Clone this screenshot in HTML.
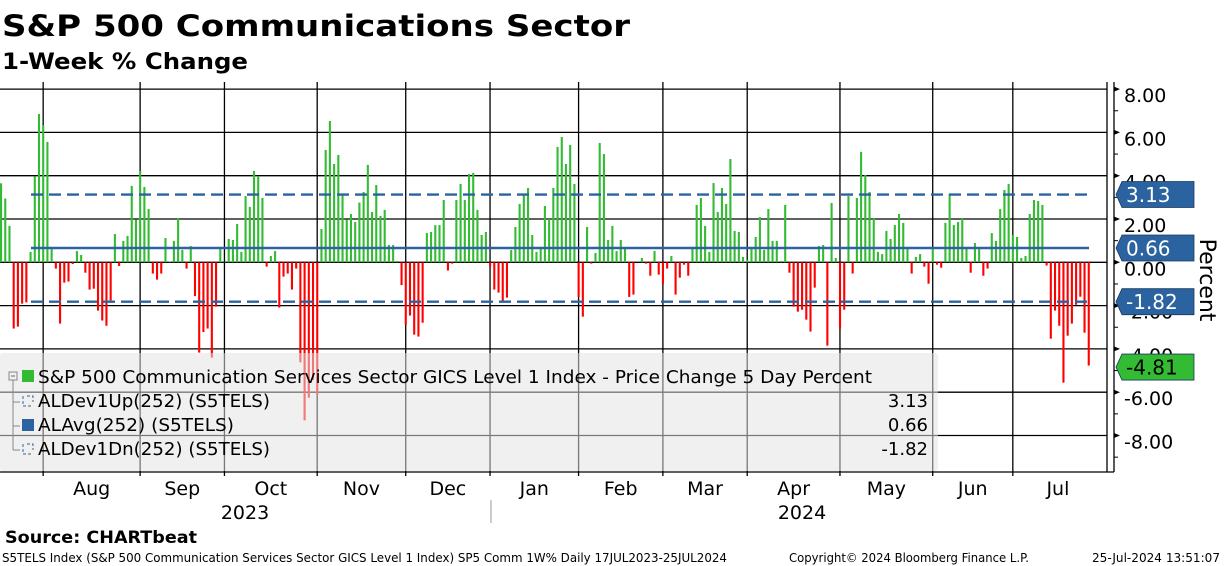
<!DOCTYPE html>
<html><head><meta charset="utf-8"><style>
html,body{margin:0;padding:0;background:#fff;}
svg{display:block;font-family:"DejaVu Sans","Liberation Sans",sans-serif;}
</style></head><body>
<svg id="chart" width="1224" height="566" viewBox="0 0 1224 566" xmlns="http://www.w3.org/2000/svg">
<text x="2" y="36" font-size="29" font-weight="bold" textLength="628" lengthAdjust="spacingAndGlyphs">S&amp;P 500 Communications Sector</text>
<text x="2" y="69" font-size="22" font-weight="bold" textLength="246" lengthAdjust="spacingAndGlyphs">1-Week % Change</text>
<g id="grid"></g>
<g id="bars"></g>
<g id="refs"></g>
<g id="legend">
<rect x="0" y="353" width="938" height="118" rx="3" fill="#e2e2e2" fill-opacity="0.53"/>
<rect x="9" y="372" width="8" height="8" fill="none" stroke="#888"/>
<line x1="11" y1="376" x2="15" y2="376" stroke="#666"/>
<line x1="13" y1="380" x2="13" y2="450" stroke="#888"/>
<line x1="13" y1="402" x2="20" y2="402" stroke="#888"/>
<line x1="13" y1="426" x2="20" y2="426" stroke="#888"/>
<line x1="13" y1="450" x2="20" y2="450" stroke="#888"/>
<rect x="22" y="370" width="12" height="12" fill="#33bb33"/>
<text x="38" y="383" font-size="18" textLength="834" lengthAdjust="spacingAndGlyphs">S&amp;P 500 Communication Services Sector GICS Level 1 Index - Price Change 5 Day Percent</text>
<path d="M23 396V406H33M27 396H33V402" fill="none" stroke="#2a63a0" stroke-dasharray="3,2"/>
<text x="38" y="407" font-size="18" textLength="232" lengthAdjust="spacingAndGlyphs">ALDev1Up(252) (S5TELS)</text>
<text x="928" y="407" font-size="18" text-anchor="end">3.13</text>
<rect x="22" y="419" width="12" height="12" fill="#2a63a0"/>
<text x="38" y="431" font-size="18" textLength="196" lengthAdjust="spacingAndGlyphs">ALAvg(252) (S5TELS)</text>
<text x="928" y="431" font-size="18" text-anchor="end">0.66</text>
<path d="M23 444V454H33M27 444H33V450" fill="none" stroke="#2a63a0" stroke-dasharray="3,2"/>
<text x="38" y="455" font-size="18" textLength="232" lengthAdjust="spacingAndGlyphs">ALDev1Dn(252) (S5TELS)</text>
<text x="928" y="455" font-size="18" text-anchor="end">-1.82</text>
</g>
<g id="yaxis"></g>
<g id="xaxis"></g>
<g id="tags"></g>
<text transform="translate(1200,280) rotate(90)" font-size="22" text-anchor="middle">Percent</text>
<text x="5" y="543" font-size="17" font-weight="bold" textLength="192" lengthAdjust="spacingAndGlyphs">Source: CHARTbeat</text>
<text x="2" y="562" font-size="12" textLength="725" lengthAdjust="spacingAndGlyphs">S5TELS Index (S&amp;P 500 Communication Services Sector GICS Level 1 Index) SP5 Comm 1W%  Daily 17JUL2023-25JUL2024</text>
<text x="789" y="562" font-size="12" textLength="240" lengthAdjust="spacingAndGlyphs">Copyright© 2024 Bloomberg Finance L.P.</text>
<text x="1092" y="562" font-size="12" textLength="128" lengthAdjust="spacingAndGlyphs">25-Jul-2024 13:51:07</text>
</svg>
<script>
const values = [3.65,2.95,1.68,-3.06,-2.97,-1.91,-1.85,0.48,3.96,6.85,6.34,5.56,0.66,-0.29,-2.83,-0.94,-0.89,-0.08,0.52,0.34,-0.48,-1.26,-1.22,-2.23,-2.69,-2.93,-1.76,1.31,-0.17,0.99,1.22,3.53,1.97,4.22,3.48,2.46,-0.52,-0.8,-0.52,1.12,0.03,0.99,2.05,0.57,-0.29,
0.75,-1.56,-4.17,-3.22,-3.06,-4.40,-2.05,0.66,0.02,1.08,1.03,1.77,0.48,3.06,2.56,4.22,3.99,2.97,-0.2,0.29,0.52,-2.09,-0.66,-0.52,-1.26,-0.29,-4.62,-7.3,-6.25,-5.43,-6.10,1.54,5.19,6.53,4.54,4.96,3.11,1.97,2.23,1.86,2.76,3.25,4.50,2.32,
3.57,2.14,2.42,0.8,0.8,0.06,-1.05,-2.88,-2.46,-3.34,-3.43,-2.79,1.35,1.40,1.72,1.72,2.88,-0.38,-0.06,2.88,3.62,2.88,4.08,4.13,2.42,1.26,1.40,-0.2,-1.26,-1.40,-1.86,-1.63,0.57,1.63,2.69,3.16,3.43,1.26,0.48,0.66,2.60,2.0,3.43,5.33,
5.79,4.54,5.42,3.62,-1.60,-2.51,1.63,-0.06,0.43,5.51,5.0,1.03,1.68,0.52,1.03,0.62,-1.60,-1.49,0,0.2,-0.06,-0.62,0.52,-0.57,-0.99,-0.29,0.29,-1.49,-0.71,-0.11,-0.62,0.66,2.65,2.97,1.68,0.48,3.66,2.32,3.43,2.69,4.77,1.45,1.40,0.25,
0.11,0.66,1.17,2.09,0.57,2.46,0.99,0.99,0.06,2.65,-0.48,-2.05,-2.28,-2.19,-2.65,-3.20,-1.17,0.75,0.8,-3.85,2.74,0.2,-3.06,-2.19,3.06,-0.52,2.97,5.10,4.03,3.25,2.05,0.48,0.38,1.45,1.08,1.72,2.23,1.82,0.66,-0.52,0.25,0.38,-0.2,-0.99,
0.66,-0.11,-0.25,1.82,3.16,1.72,1.86,2.05,0.66,-0.48,0.89,0.66,-0.62,-0.29,1.35,0.99,2.46,3.34,3.62,1.26,1.17,0.2,0.29,2.23,2.88,2.83,2.65,-0.15,-3.53,-2.23,-2.93,-5.56,-3.39,-2.83,-1.96,-1.59,-3.25,-4.77];
const refNames = ["dev-up","avg","dev-down"];
const refValues = [3.13,0.66,-1.82];
const yTicks = [8,6,4,2,0,-2,-4,-6,-8];
const yTickLabels = ["8.00","6.00","4.00","2.00","0.00","-2.00","-4.00","-6.00","-8.00"];
const months = ["Aug","Sep","Oct","Nov","Dec","Jan","Feb","Mar","Apr","May","Jun","Jul"];
const monthStartIdx = [10,33,53,75,96,116,137,157,177,199,221,240];
const years = ["2023","2024"];
const lastLabel = "-4.81";

const NS="http://www.w3.org/2000/svg";
const X0=1, X1=1088.7, Y0=262.3, PPU=21.65;
const N=values.length;
const xScale=i=>X0+i*(X1-X0)/(N-1);
const yScale=v=>Y0-v*PPU;
function mk(tag,attrs,parent){const e=document.createElementNS(NS,tag);for(const k in attrs)e.setAttribute(k,attrs[k]);parent.appendChild(e);return e;}
const grid=document.getElementById('grid'),bars=document.getElementById('bars'),refs=document.getElementById('refs'),yax=document.getElementById('yaxis'),xax=document.getElementById('xaxis'),tags=document.getElementById('tags');

yTicks.forEach(t=>{const l=mk('line',{x1:0,x2:1107,y1:yScale(t),y2:yScale(t),stroke:'#000','stroke-width':1.3},grid);

});
const gx=monthStartIdx.map(i=>xScale(i));
gx.forEach(x=>{const l=mk('line',{x1:x,x2:x,y1:82,y2:476,stroke:'#000','stroke-width':1.3},grid);

});
mk('line',{x1:1107,x2:1107,y1:82,y2:472,stroke:'#000','stroke-width':1.3},grid);
mk('line',{x1:1114,x2:1114,y1:82,y2:472,stroke:'#000','stroke-width':1.3},grid);
mk('line',{x1:0,x2:1114,y1:472,y2:472,stroke:'#000','stroke-width':1.3},grid);

values.forEach((v,i)=>{const y=yScale(Math.max(v,0)),h=Math.abs(v)*PPU;
const r=mk('rect',{x:xScale(i)-1,y:y,width:2.1,height:h,fill:v>=0?'#33bb33':'#ff0000'},bars);

});

refValues.forEach((v,k)=>{const l=mk('line',{x1:31,x2:1089,y1:yScale(v),y2:yScale(v),stroke:'#2a63a0','stroke-width':2.4},refs);
if(k!==1)l.setAttribute('stroke-dasharray','12,6');

});

yTicks.forEach((t,k)=>{const y=yScale(t);
mk('path',{d:`M1114 ${y-2.5}L1120 ${y}L1114 ${y+2.5}Z`,fill:'#000'},yax);
mk('line',{x1:1114,x2:1118,y1:y+PPU,y2:y+PPU,stroke:'#000'},yax);
const tx=mk('text',{x:1124,y:y+13,'font-size':19},yax);tx.textContent=yTickLabels[k];

});

months.forEach((m,k)=>{const a=gx[k],b=k<gx.length-1?gx[k+1]:1107;
const tx=mk('text',{x:(a+b)/2+(k===gx.length-1?-2:0),y:495,'font-size':19,'text-anchor':'middle'},xax);tx.textContent=m;

});
[[245,years[0]],[802,years[1]]].forEach(([x,s])=>{const tx=mk('text',{x:x,y:519,'font-size':19,'text-anchor':'middle'},xax);tx.textContent=s;

});
mk('line',{x1:491,x2:491,y1:500,y2:523,stroke:'#999'},xax);

function tag(v,label,fill,color,name){const y=yScale(v);
const g=mk('g',{},tags);


mk('path',{d:`M1116 ${y}L1122 ${y-13}H1194V${y+13}H1122Z`,fill:fill,stroke:'#1a3a60','stroke-width':0.8},g);
const t=mk('text',{x:1126,y:y+7.5,'font-size':20,fill:color},g);t.textContent=label;}
tag(refValues[0],refValues[0].toFixed(2),'#2a63a0','#fff','tag-dev-up');
tag(refValues[1],refValues[1].toFixed(2),'#2a63a0','#fff','tag-avg');
tag(refValues[2],refValues[2].toFixed(2),'#2a63a0','#fff','tag-dev-down');
tag(values[N-1]-0.07,lastLabel,'#33bb33','#000','tag-last-value');
</script>
</body></html>
